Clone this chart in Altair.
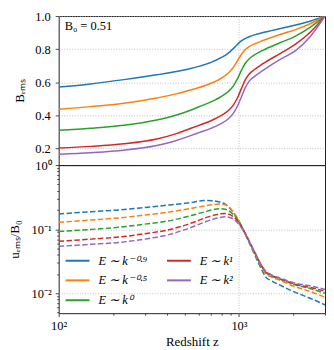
import altair as alt
import pandas as pd

FONT = "Liberation Serif"

labels = ["E ∼ k⁻⁰·⁹", "E ∼ k⁻⁰·⁵", "E ∼ k⁰", "E ∼ k¹", "E ∼ k²"]
colors = ["#1f77b4", "#ff7f0e", "#2ca02c", "#d62728", "#9467bd"]

# top panel: B_rms vs redshift
z_top = [100, 150, 230, 350, 450, 520, 600, 700, 800, 870, 930, 980, 1030, 1080, 1140, 1220, 1358, 1700, 2060, 2500, 3000]
b_m09 = [0.571, 0.590, 0.616, 0.645, 0.665, 0.679, 0.696, 0.720, 0.750, 0.775, 0.803, 0.828, 0.850, 0.864, 0.875, 0.886, 0.900, 0.925, 0.946, 0.970, 1.0]
b_m05 = [0.437, 0.453, 0.474, 0.505, 0.530, 0.549, 0.568, 0.594, 0.625, 0.655, 0.690, 0.730, 0.768, 0.796, 0.816, 0.832, 0.852, 0.890, 0.918, 0.955, 1.0]
b_k0 = [0.310, 0.322, 0.340, 0.372, 0.402, 0.425, 0.452, 0.482, 0.515, 0.543, 0.577, 0.620, 0.670, 0.712, 0.742, 0.765, 0.793, 0.840, 0.879, 0.935, 1.0]
b_k1 = [0.203, 0.213, 0.229, 0.258, 0.290, 0.315, 0.340, 0.368, 0.400, 0.428, 0.462, 0.505, 0.560, 0.612, 0.650, 0.677, 0.712, 0.775, 0.830, 0.905, 1.0]
b_k2 = [0.166, 0.175, 0.190, 0.218, 0.248, 0.272, 0.296, 0.322, 0.352, 0.378, 0.412, 0.455, 0.510, 0.565, 0.607, 0.636, 0.672, 0.740, 0.791, 0.880, 1.0]

# bottom panel: u_rms / B_0 vs redshift
z_bot = [100, 150, 221, 300, 413, 550, 640, 711, 780, 839, 912, 985, 1079, 1150, 1222, 1330, 1413, 1507, 1700, 2014, 2500, 3000]
u_m09 = [0.173, 0.187, 0.201, 0.218, 0.239, 0.262, 0.280, 0.277, 0.265, 0.245, 0.196, 0.140, 0.085, 0.058, 0.040, 0.024, 0.0177, 0.0158, 0.0133, 0.0106, 0.0083, 0.0066]
u_m05 = [0.128, 0.139, 0.151, 0.166, 0.186, 0.213, 0.230, 0.241, 0.247, 0.241, 0.200, 0.145, 0.087, 0.060, 0.042, 0.026, 0.0200, 0.0180, 0.0158, 0.0129, 0.0106, 0.0087]
u_k0 = [0.092, 0.099, 0.108, 0.120, 0.136, 0.165, 0.185, 0.200, 0.209, 0.205, 0.178, 0.140, 0.088, 0.061, 0.043, 0.0268, 0.0210, 0.0188, 0.0165, 0.0138, 0.0118, 0.0100]
u_k1 = [0.0646, 0.070, 0.0759, 0.085, 0.0987, 0.126, 0.148, 0.163, 0.173, 0.175, 0.163, 0.133, 0.088, 0.062, 0.044, 0.0275, 0.0215, 0.0192, 0.0168, 0.0140, 0.0123, 0.0108]
u_k2 = [0.054, 0.058, 0.0625, 0.070, 0.083, 0.108, 0.128, 0.142, 0.152, 0.156, 0.148, 0.125, 0.086, 0.061, 0.044, 0.0278, 0.0218, 0.0196, 0.0172, 0.0146, 0.0130, 0.0115]

x_ticks = [100, 200, 300, 400, 500, 600, 700, 800, 900, 1000, 2000, 3000]
y_top_ticks = [0.2, 0.4, 0.6, 0.8, 1.0]
y_bot_ticks = [0.005, 0.006, 0.007, 0.008, 0.009,
               0.01, 0.02, 0.03, 0.04, 0.05, 0.06, 0.07, 0.08, 0.09,
               0.1, 0.2, 0.3, 0.4, 0.5, 0.6, 0.7, 0.8, 0.9, 1.0]

top_rows = []
for lab, vals in zip(labels, [b_m09, b_m05, b_k0, b_k1, b_k2]):
    for z, v in zip(z_top, vals):
        top_rows.append({"z": z, "v": v, "series": lab})
bot_rows = []
for lab, vals in zip(labels, [u_m09, u_m05, u_k0, u_k1, u_k2]):
    for z, v in zip(z_bot, vals):
        bot_rows.append({"z": z, "v": v, "series": lab})
top_df = pd.DataFrame(top_rows)
bot_df = pd.DataFrame(bot_rows)

W = 268
H_TOP = 150
H_BOT = 149

xscale = alt.Scale(type="log", domain=[100, 3000], nice=False)
ytop_scale = alt.Scale(domain=[0.1, 1.0], nice=False, zero=False)
grid_common = dict(gridColor="#b0b0b0", gridDash=[1, 1.6], gridWidth=0.8)

x_top_axis = alt.Axis(values=x_ticks, labels=False, ticks=False, domain=False, title=None,
                      gridOpacity={"condition": {"test": "datum.value == 1000", "value": 1}, "value": 0},
                      **grid_common)
x_bot_axis = alt.Axis(values=x_ticks, domain=False, title="Redshift z",
                      labelExpr="datum.value == 100 ? '10²' : datum.value == 1000 ? '10³' : ''",
                      labelFlush=False, labelOverlap=False, labelPadding=3,
                      tickSize={"condition": {"test": "datum.value == 100 || datum.value == 1000", "value": 3.5}, "value": 2},
                      gridOpacity={"condition": {"test": "datum.value == 1000", "value": 1}, "value": 0},
                      titlePadding=4,
                      **grid_common)

y_top_axis = alt.Axis(values=y_top_ticks, format=".1f", domain=False, title="Bᵣₘₛ",
                      tickSize=3.5, labelPadding=5, labelOverlap=False, minExtent=30, maxExtent=30,
                      titlePadding=2, **grid_common)
y_bot_axis = alt.Axis(values=y_bot_ticks, domain=False, title="uᵣₘₛ/B₀",
                      labelExpr="datum.value == 1 ? '10⁰' : datum.value == 0.1 ? '10⁻¹' : datum.value == 0.01 ? '10⁻²' : ''",
                      labelOverlap=False, labelPadding=4, minExtent=35, maxExtent=35, titlePadding=2,
                      tickSize={"condition": {"test": "datum.value == 1 || datum.value == 0.1 || datum.value == 0.01", "value": 3.5}, "value": 2},
                      gridOpacity={"condition": {"test": "datum.value == 0.1 || datum.value == 0.01", "value": 1}, "value": 0},
                      **grid_common)

top_lines = alt.Chart(top_df).mark_line(strokeWidth=1.5, interpolate="monotone", clip=True).encode(
    x=alt.X("z:Q", scale=xscale, axis=x_top_axis),
    y=alt.Y("v:Q", scale=ytop_scale, axis=y_top_axis),
    color=alt.Color("series:N", scale=alt.Scale(domain=labels, range=colors), legend=None),
    detail="series:N",
)

ann_df = pd.DataFrame({"z": [100], "v": [0.942], "t": ["B₀ = 0.51"]})
ann = alt.Chart(ann_df).mark_text(align="left", baseline="middle", dx=6, font=FONT, fontSize=12.5, color="black").encode(
    x=alt.X("z:Q", scale=xscale, axis=x_top_axis),
    y=alt.Y("v:Q", scale=ytop_scale, axis=y_top_axis),
    text="t:N",
)

top = alt.layer(top_lines, ann).properties(width=W, height=H_TOP)

bot = alt.Chart(bot_df).mark_line(strokeWidth=1.5, strokeDash=[5.5, 2.4], interpolate="monotone", clip=True).encode(
    x=alt.X("z:Q", scale=xscale, axis=x_bot_axis),
    y=alt.Y("v:Q", scale=alt.Scale(type="log", domain=[0.0049, 1.0], nice=False), axis=y_bot_axis),
    color=alt.Color("series:N", scale=alt.Scale(domain=labels, range=colors),
                    legend=alt.Legend(title=None, orient="none", legendX=6, legendY=83, columns=2,
                                      symbolType="stroke", symbolSize=576, symbolStrokeWidth=2,
                                      symbolDash=[100, 0],
                                      labelFont=FONT, labelFontSize=12.5, labelFontStyle="italic",
                                      columnPadding=20, rowPadding=0, labelOffset=8, padding=0)),
).properties(width=W, height=H_BOT)

chart = alt.vconcat(top, bot, spacing=0, bounds="flush").resolve_scale(
    color="independent"
).resolve_legend(color="independent").configure(
    font=FONT, padding={"left": 0, "top": 0, "right": 0, "bottom": 0}
).configure_view(
    stroke="#222", strokeWidth=1
).configure_axis(
    labelFont=FONT, labelFontSize=12.5, labelColor="black",
    titleFont=FONT, titleFontSize=13, titleFontWeight="normal", titleColor="black",
    tickColor="#222", tickWidth=0.8,
)

chart.save("out.html", embed_options={"renderer": "svg", "actions": False})
